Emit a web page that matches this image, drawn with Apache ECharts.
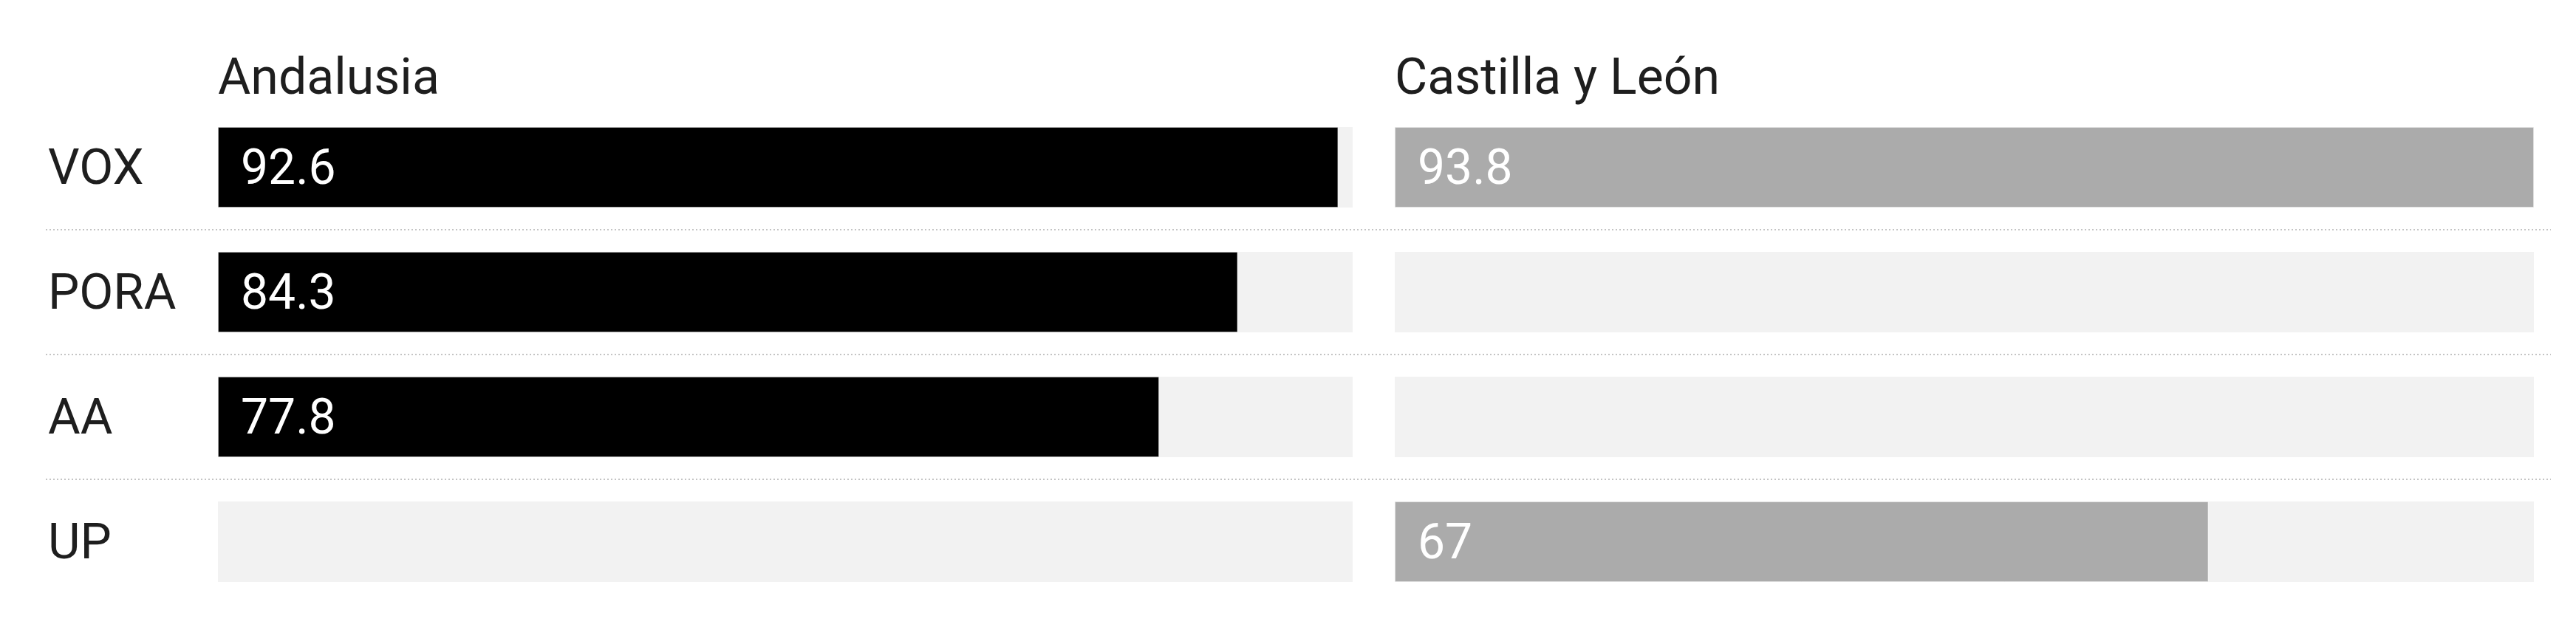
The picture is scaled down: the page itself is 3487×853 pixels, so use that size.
<!DOCTYPE html>
<html>
<head>
<meta charset="utf-8">
<script src="https://cdn.jsdelivr.net/npm/echarts@6/dist/echarts.min.js"></script>
<style>
html,body{margin:0;padding:0;background:#fff;}
#chart{width:3487px;height:853px;}
</style>
</head>
<body>
<div id="chart"></div>
<script>
const categories = ['VOX', 'PORA', 'AA', 'UP'];
const panelTitles = ['Andalusia', 'Castilla y León'];
const andalusia = [92.6, 84.3, 77.8, null];
const castilla = [93.8, null, null, 67];

const allValues = andalusia.concat(castilla).filter(v => v != null);
const axisMax = Math.max.apply(null, allValues);

const FONT = 'Roboto';
const FS = 66;
const gridTop = 142, gridHeight = 676;

const chart = echarts.init(document.getElementById('chart'), null, {renderer: 'canvas'});

function valueAxis(idx) {
  return {
    type: 'value', gridIndex: idx, min: 0, max: axisMax,
    show: false
  };
}
function catAxis(idx, showLabels) {
  return {
    type: 'category', gridIndex: idx, data: categories, inverse: true,
    axisLine: {show: false}, axisTick: {show: false}, splitLine: {show: false},
    axisLabel: showLabels ? {
      show: true, align: 'left', margin: 230,
      formatter: v => '{c|' + v + '}',
      rich: {c: {fontFamily: FONT, fontSize: 67, color: '#1e1e1e', lineHeight: 80, padding: [12, 0, 0, 0]}}
    } : {show: false}
  };
}
function barSeries(idx, data, color) {
  return {
    type: 'bar', xAxisIndex: idx, yAxisIndex: idx, data: data,
    barWidth: 109,
    showBackground: true,
    backgroundStyle: {color: '#f2f2f2'},
    itemStyle: {color: color, borderColor: 'rgba(255,255,255,0.35)', borderWidth: 1},
    label: {
      show: true, position: 'insideLeft', distance: 31, offset: [0, 6],
      fontFamily: FONT, fontSize: FS, color: '#ffffff',
      formatter: p => (p.value == null ? '' : String(p.value))
    },
    silent: true, animation: false
  };
}

const titleStyle = {fontFamily: FONT, fontSize: 68, fontWeight: 'normal', color: '#1e1e1e', lineHeight: 80};

const option = {
  backgroundColor: '#ffffff',
  animation: false,
  title: [
    {text: panelTitles[0], left: 295, top: 70, padding: 0, textStyle: titleStyle},
    {text: panelTitles[1], left: 1888, top: 70, padding: 0, textStyle: titleStyle}
  ],
  grid: [
    {left: 295, width: 1536, top: gridTop, height: gridHeight},
    {left: 1888, width: 1542, top: gridTop, height: gridHeight},
    {left: 62, right: 34, top: gridTop, height: gridHeight}
  ],
  xAxis: [
    valueAxis(0), valueAxis(1),
    {type: 'value', gridIndex: 2, min: 0, max: 1, show: false}
  ],
  yAxis: [
    catAxis(0, true), catAxis(1, false),
    {
      type: 'value', gridIndex: 2, min: 0, max: categories.length, interval: 1,
      axisLine: {show: false}, axisTick: {show: false}, axisLabel: {show: false},
      splitLine: {show: true, showMinLine: false, showMaxLine: false,
        lineStyle: {color: '#c4c4c4', width: 2, type: [2, 3]}}
    }
  ],
  series: [
    barSeries(0, andalusia, '#000000'),
    barSeries(1, castilla, '#ababab')
  ]
};
chart.setOption(option);
</script>
</body>
</html>
